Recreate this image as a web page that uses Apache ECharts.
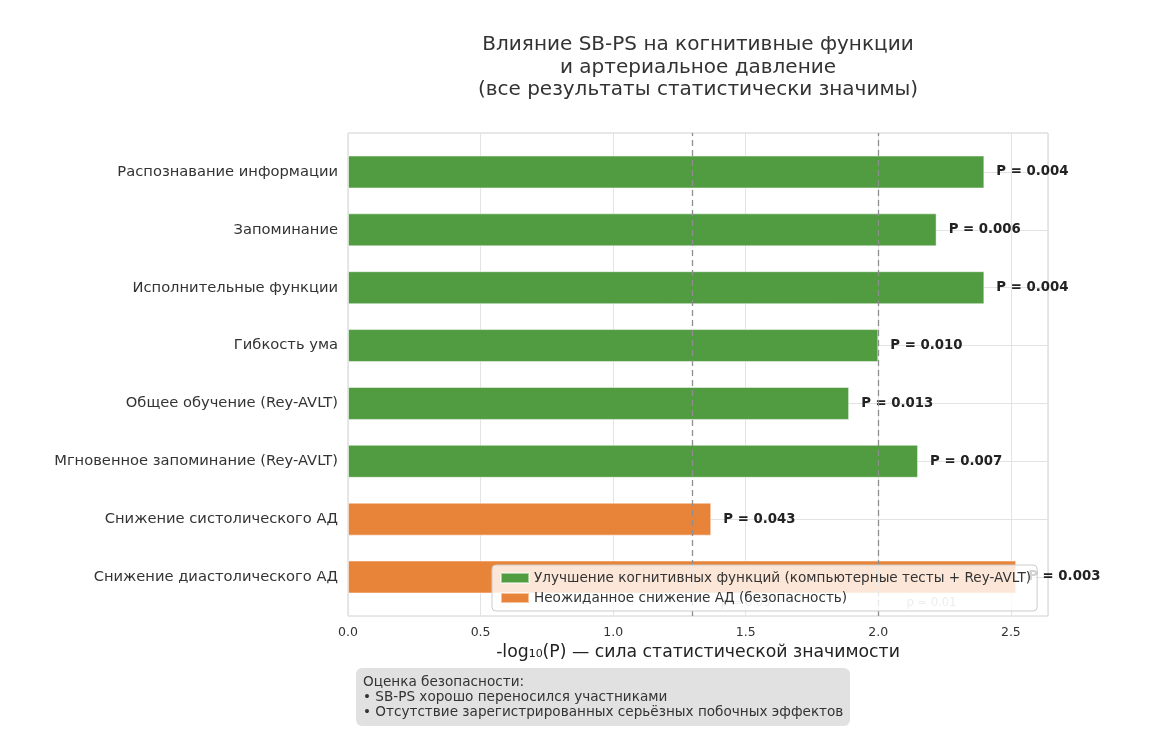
<!DOCTYPE html>
<html><head><meta charset="utf-8">
<script src="https://cdn.jsdelivr.net/npm/echarts@6/dist/echarts.min.js"></script>
<style>html,body{margin:0;padding:0;background:#fff}#c{width:1152px;height:756px}</style>
</head><body><div id="c"></div>
<script>
const categories = [
  'Распознавание информации',
  'Запоминание',
  'Исполнительные функции',
  'Гибкость ума',
  'Общее обучение (Rey-AVLT)',
  'Мгновенное запоминание (Rey-AVLT)',
  'Снижение систолического АД',
  'Снижение диастолического АД'
];
const strength = [2.40, 2.22, 2.40, 2.00, 1.89, 2.15, 1.37, 2.52];
const pValues = ['0.004', '0.006', '0.004', '0.010', '0.013', '0.007', '0.043', '0.003'];
const groupOf = ['cog', 'cog', 'cog', 'cog', 'cog', 'cog', 'bp', 'bp'];
const seriesNames = [
  'Улучшение когнитивных функций (компьютерные тесты + Rey-AVLT)',
  'Неожиданное снижение АД (безопасность)'
];
const thresholds = [1.3, 2.0];
const thresholdLabels = ['p = 0.05', 'p = 0.01'];
const titleLines = [
  'Влияние SB-PS на когнитивные функции',
  'и артериальное давление',
  '(все результаты статистически значимы)'
];
const noteLines = [
  'Оценка безопасности:',
  '• SB-PS хорошо переносился участниками',
  '• Отсутствие зарегистрированных серьёзных побочных эффектов'
];
const xName = '-log\u2081\u2080(P) — сила статистической значимости';

const FONT = 'DejaVu Sans';
const GREEN = '#519b41';
const ORANGE = '#e8843a';
const X_MAX = 2.64;

const cogData = strength.map((v, i) => groupOf[i] === 'cog' ? v : '-');
const bpData = strength.map((v, i) => groupOf[i] === 'bp' ? v : '-');

const barLabel = {
  show: true, position: 'right', distance: 12,
  fontFamily: FONT, fontSize: 13.3, fontWeight: 'bold', color: '#222',
  formatter: p => 'P = ' + pValues[p.dataIndex]
};

const chart = echarts.init(document.getElementById('c'), null, {renderer: 'canvas'});
chart.setOption({
  backgroundColor: '#fff',
  animation: false,
  textStyle: {fontFamily: FONT},
  grid: [
    {left: 348, width: 700, top: 133, height: 483, show: true, borderColor: '#d0d0d0', borderWidth: 1, backgroundColor: 'transparent'},
    {left: 348, width: 700, top: 172, height: 405}
  ],
  xAxis: [
    {
      type: 'value', gridIndex: 0, min: 0, max: X_MAX, interval: 0.5,
      axisLine: {show: false}, axisTick: {show: false},
      splitLine: {show: true, lineStyle: {color: '#e3e3e3', width: 1}},
      axisLabel: {
        fontFamily: FONT, fontSize: 12.5, color: '#333', margin: 10,
        formatter: v => (Math.abs(v / 0.5 - Math.round(v / 0.5)) < 1e-6) ? v.toFixed(1) : ''
      },
      name: xName, nameLocation: 'middle', nameGap: 26,
      nameTextStyle: {fontFamily: FONT, fontSize: 17.3, color: '#222'}
    },
    {type: 'value', gridIndex: 1, min: 0, max: X_MAX, show: false}
  ],
  yAxis: [
    {type: 'value', gridIndex: 0, min: 0, max: 1, show: false},
    {
      type: 'category', gridIndex: 1, data: categories, inverse: true, boundaryGap: false,
      axisLine: {show: false}, axisTick: {show: false},
      splitLine: {show: true, lineStyle: {color: '#e3e3e3', width: 1}},
      axisLabel: {fontFamily: FONT, fontSize: 14.7, color: '#333', margin: 10}
    }
  ],
  legend: {
    orient: 'vertical', left: 492, top: 565,
    data: seriesNames,
    icon: 'rect', itemWidth: 28, itemHeight: 10, itemGap: 6,
    padding: [6, 6, 6, 8],
    backgroundColor: 'rgba(255,255,255,0.8)',
    borderColor: '#cccccc', borderWidth: 1, borderRadius: 4,
    textStyle: {fontFamily: FONT, fontSize: 13.6, color: '#333'},
    z: 10
  },
  series: [
    {
      name: seriesNames[0], type: 'bar', xAxisIndex: 1, yAxisIndex: 1,
      data: cogData, barWidth: 33, barGap: '-100%', clip: false,
      itemStyle: {color: GREEN, borderColor: 'rgba(255,255,255,0.5)', borderWidth: 1},
      label: barLabel, z: 2
    },
    {
      name: seriesNames[1], type: 'bar', xAxisIndex: 1, yAxisIndex: 1,
      data: bpData, barWidth: 33, barGap: '-100%', clip: false,
      itemStyle: {color: ORANGE, borderColor: 'rgba(255,255,255,0.5)', borderWidth: 1},
      label: barLabel, z: 2
    },
    {
      name: 'thresholds', type: 'scatter', xAxisIndex: 0, yAxisIndex: 0,
      symbolSize: 0, silent: true, z: 3,
      data: thresholds.map((t, i) => ({value: [t + 0.2, 0.027], name: thresholdLabels[i]})),
      label: {show: true, position: 'inside', formatter: p => p.name, fontFamily: FONT, fontSize: 11.5, color: '#888'},
      markLine: {
        silent: true, symbol: 'none', z: 3,
        label: {show: false},
        lineStyle: {type: [6, 4], color: '#8e8e8e', width: 1.3},
        data: thresholds.map(t => ({xAxis: t}))
      }
    }
  ],
  graphic: [
    {
      type: 'text', z: 20, position: [698, 34],
      style: {
        text: titleLines.join('\n'), x: 0, y: 0,
        font: '20px "DejaVu Sans"', lineHeight: 22.5, fill: '#333', textAlign: 'center'
      }
    },
    {
      type: 'group', z: 20,
      children: [
        {type: 'rect', shape: {x: 356, y: 668, width: 494, height: 58, r: 6}, style: {fill: '#e1e1e1'}},
        {type: 'text', style: {x: 363, y: 674.5, text: noteLines.join('\n'), font: '13.6px "DejaVu Sans"', lineHeight: 15, fill: '#333'}}
      ]
    }
  ]
});
</script>
</body></html>
